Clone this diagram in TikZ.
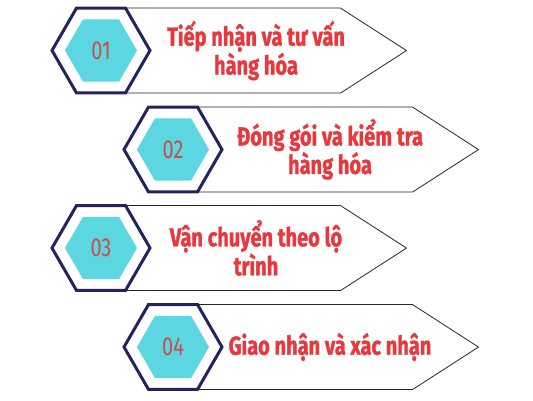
\documentclass[tikz,border=0pt]{standalone}
\usepackage{fontspec}
\setmainfont{Fira Sans}[FakeStretch=0.77, BoldFeatures={FakeBold=1.2}]
\usetikzlibrary{shapes.geometric}
\definecolor{hexnavy}{HTML}{24235E}
\definecolor{hexcyan}{HTML}{5CD6E0}
\definecolor{titlered}{HTML}{E8383D}
\definecolor{numred}{HTML}{C4504E}
\tikzset{outer hex/.style={regular polygon, regular polygon sides=6, minimum size=98pt, draw=hexnavy, line width=3pt, fill=white, inner sep=0pt, outer sep=0pt},
  inner hex/.style={regular polygon, regular polygon sides=6, minimum size=72pt, fill=hexcyan, inner sep=0pt, text=numred, font=\fontsize{26}{26}\selectfont},
  title text/.style={align=center, text=titlered, font=\fontsize{26}{27}\selectfont\bfseries},
  panel/.style={draw=black!85, line width=0.8pt},}

\begin{document}
\begin{tikzpicture}[x=1pt, y=-1pt]
        \useasboundingbox (0,0) rectangle (533,400);
        % Nodes
        \node[outer hex] (h1) at (101,50.5) {};
        \node[outer hex] (h2) at (173,149.5) {};
        \node[outer hex] (h3) at (101,248) {};
        \node[outer hex] (h4) at (173,347) {};
        \node[inner hex] (n1) at (h1) {01};
        \node[inner hex] (n2) at (h2) {02};
        \node[inner hex] (n3) at (h3) {03};
        \node[inner hex] (n4) at (h4) {04};
        \node[title text, xshift=155pt] (t1) at (h1) {Tiếp nhận và tư vấn\\hàng hóa};
        \node[title text, xshift=157pt] (t2) at (h2) {Đóng gói và kiểm tra\\hàng hóa};
        \node[title text, xshift=155pt] (t3) at (h3) {Vận chuyển theo lộ\\trình};
        \node[title text, xshift=157pt] (t4) at (h4) {Giao nhận và xác nhận};
        % Paths
        \draw[panel] (h1.60) -- ++(215,0) -- ++(66,42.5) -- ++(-66,42.5) -- (h1.-60);
        \draw[panel] (h2.60) -- ++(215,0) -- ++(66,42.5) -- ++(-66,42.5) -- (h2.-60);
        \draw[panel] (h3.60) -- ++(215,0) -- ++(66,42.5) -- ++(-66,42.5) -- (h3.-60);
        \draw[panel] (h4.60) -- ++(215,0) -- ++(66,42.5) -- ++(-66,42.5) -- (h4.-60);
\end{tikzpicture}
\end{document}
